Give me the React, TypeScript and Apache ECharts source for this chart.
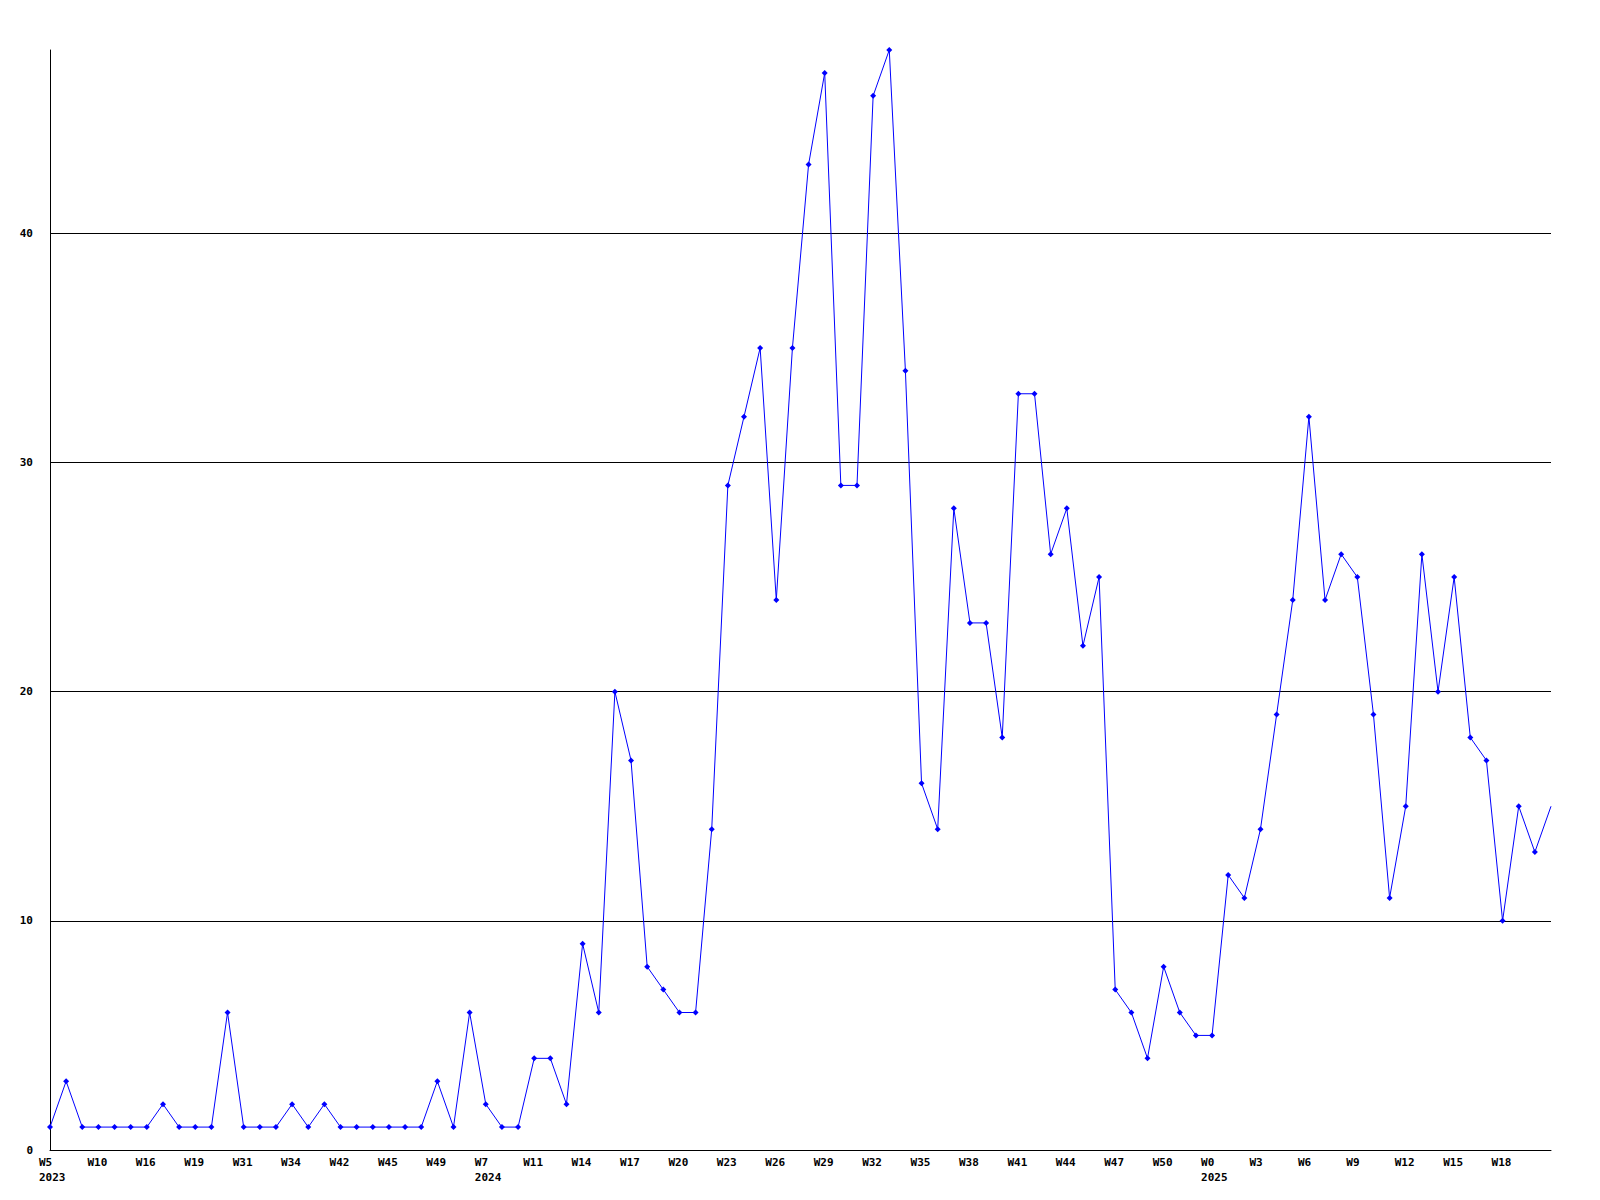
import React, { useEffect, useRef } from "react";
import * as echarts from "echarts";

// Week categories (every third one is labelled on the axis)
const weeks: string[] = [
  "W5", "W6", "W8", "W10", "W12", "W14", "W16", "W17", "W18", "W19",
  "W24", "W28", "W31", "W32", "W33", "W34", "W37", "W40", "W42", "W43",
  "W44", "W45", "W46", "W48", "W49", "W50", "W52", "W7", "W9", "W10",
  "W11", "W12", "W13", "W14", "W15", "W16", "W17", "W18", "W19", "W20",
  "W21", "W22", "W23", "W24", "W25", "W26", "W27", "W28", "W29", "W30",
  "W31", "W32", "W33", "W34", "W35", "W36", "W37", "W38", "W39", "W40",
  "W41", "W42", "W43", "W44", "W45", "W46", "W47", "W48", "W49", "W50",
  "W51", "W52", "W0", "W1", "W2", "W3", "W4", "W5", "W6", "W7",
  "W8", "W9", "W10", "W11", "W12", "W13", "W14", "W15", "W16", "W17",
  "W18", "W19", "W20", "W21",
];

// Year shown under the first category of each year
const yearStarts: { index: number; year: string }[] = [
  { index: 0, year: "2023" },
  { index: 27, year: "2024" },
  { index: 72, year: "2025" },
];

const counts: number[] = [
  1, 3, 1, 1, 1, 1, 1, 2, 1, 1,
  1, 6, 1, 1, 1, 2, 1, 2, 1, 1,
  1, 1, 1, 1, 3, 1, 6, 2, 1, 1,
  4, 4, 2, 9, 6, 20, 17, 8, 7, 6,
  6, 14, 29, 32, 35, 24, 35, 43, 47, 29,
  29, 46, 48, 34, 16, 14, 28, 23, 23, 18,
  33, 33, 26, 28, 22, 25, 7, 6, 4, 8,
  6, 5, 5, 12, 11, 14, 19, 24, 32, 24,
  26, 25, 19, 11, 15, 26, 20, 25, 18, 17,
  10, 15, 13, 15,
];

const yTicks = { min: 0, max: 48, interval: 10 };

const FONT = "'DejaVu Sans Mono', 'Liberation Mono', monospace";

export default function App() {
  const ref = useRef<HTMLDivElement>(null);

  useEffect(() => {
    if (!ref.current) return;
    const chart = echarts.init(ref.current, null, { renderer: "svg" });
    const yearMap: Record<number, string> = {};
    yearStarts.forEach((y) => (yearMap[y.index] = y.year));
    const lastIndex = weeks.length - 1;

    chart.setOption({
      animation: false,
      backgroundColor: "#ffffff",
      grid: { left: 50, right: 49, top: 50, bottom: 50, containLabel: false },
      xAxis: {
        type: "category",
        data: weeks,
        boundaryGap: false,
        axisLine: { show: true, lineStyle: { color: "#000", width: 1 } },
        axisTick: { show: false },
        splitLine: { show: false },
        axisLabel: {
          interval: 2,
          margin: 5,
          showMaxLabel: false,
          formatter: (value: string, index: number) => {
            if (index === lastIndex) return "";
            const y = yearMap[index];
            return y ? `{a|${value}}\n{a|${y}}` : `{a|${value}}`;
          },
          rich: {
            a: {
              width: 22,
              align: "left",
              fontFamily: FONT,
              fontWeight: "bold",
              fontSize: 11,
              lineHeight: 15,
              color: "#000",
            },
          },
        },
      },
      yAxis: {
        type: "value",
        min: yTicks.min,
        max: yTicks.max,
        interval: yTicks.interval,
        axisLine: { show: true, lineStyle: { color: "#000", width: 1 } },
        axisTick: { show: false },
        splitLine: {
          show: true,
          showMaxLine: false,
          lineStyle: { color: "#000", width: 1, type: "solid" },
        },
        axisLabel: {
          showMaxLabel: false,
          margin: 17,
          fontFamily: FONT,
          fontWeight: "bold",
          fontSize: 11,
          color: "#000",
        },
      },
      series: [
        {
          type: "line",
          data: counts.map((v, i) =>
            i === counts.length - 1 ? { value: v, symbol: "none" } : v
          ),
          symbol: "diamond",
          symbolSize: 6,
          showAllSymbol: true,
          lineStyle: { color: "#0000ff", width: 1 },
          itemStyle: { color: "#0000ff", borderWidth: 0 },
          emphasis: { disabled: true },
        },
      ],
    });

    return () => chart.dispose();
  }, []);

  return (
    <div
      ref={ref}
      style={{ position: "fixed", left: 0, top: 0, width: 1600, height: 1200, background: "#fff" }}
    />
  );
}
